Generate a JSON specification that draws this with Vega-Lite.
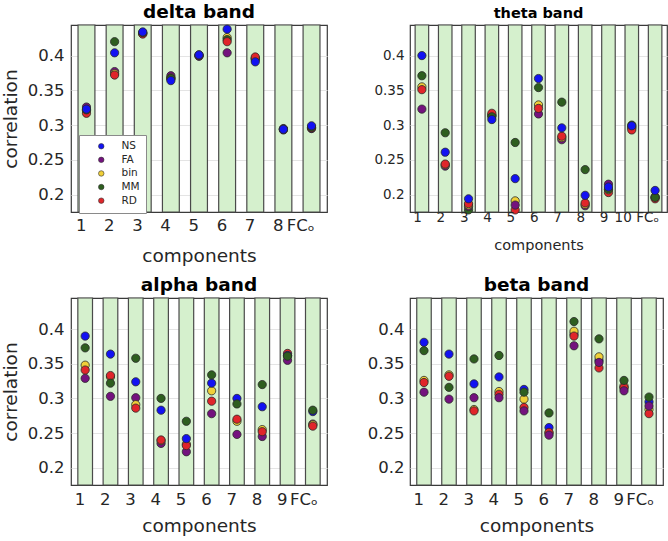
{
  "$schema": "https://vega.github.io/schema/vega-lite/v6.json",
  "padding": {"left": 0, "top": 2, "right": 0, "bottom": 0},
  "background": "white",
  "datasets": {
    "delta": [
      {"comp": "1", "method": "FA", "r": 0.326}, {"comp": "1", "method": "bin", "r": 0.321}, {"comp": "1", "method": "RD", "r": 0.317}, {"comp": "1", "method": "MM", "r": 0.322}, {"comp": "1", "method": "NS", "r": 0.323},
      {"comp": "2", "method": "FA", "r": 0.377}, {"comp": "2", "method": "bin", "r": 0.374}, {"comp": "2", "method": "RD", "r": 0.372}, {"comp": "2", "method": "MM", "r": 0.420}, {"comp": "2", "method": "NS", "r": 0.404},
      {"comp": "3", "method": "FA", "r": 0.432}, {"comp": "3", "method": "bin", "r": 0.432}, {"comp": "3", "method": "RD", "r": 0.431}, {"comp": "3", "method": "MM", "r": 0.433}, {"comp": "3", "method": "NS", "r": 0.434},
      {"comp": "4", "method": "FA", "r": 0.371}, {"comp": "4", "method": "bin", "r": 0.368}, {"comp": "4", "method": "RD", "r": 0.367}, {"comp": "4", "method": "MM", "r": 0.367}, {"comp": "4", "method": "NS", "r": 0.364},
      {"comp": "5", "method": "FA", "r": 0.399}, {"comp": "5", "method": "bin", "r": 0.400}, {"comp": "5", "method": "RD", "r": 0.400}, {"comp": "5", "method": "MM", "r": 0.401}, {"comp": "5", "method": "NS", "r": 0.401},
      {"comp": "6", "method": "FA", "r": 0.404}, {"comp": "6", "method": "bin", "r": 0.426}, {"comp": "6", "method": "MM", "r": 0.423}, {"comp": "6", "method": "RD", "r": 0.420}, {"comp": "6", "method": "NS", "r": 0.438},
      {"comp": "7", "method": "FA", "r": 0.396}, {"comp": "7", "method": "bin", "r": 0.396}, {"comp": "7", "method": "MM", "r": 0.394}, {"comp": "7", "method": "RD", "r": 0.398}, {"comp": "7", "method": "NS", "r": 0.391},
      {"comp": "8", "method": "FA", "r": 0.295}, {"comp": "8", "method": "bin", "r": 0.294}, {"comp": "8", "method": "RD", "r": 0.293}, {"comp": "8", "method": "MM", "r": 0.294}, {"comp": "8", "method": "NS", "r": 0.294},
      {"comp": "FCₒ", "method": "FA", "r": 0.295}, {"comp": "FCₒ", "method": "bin", "r": 0.296}, {"comp": "FCₒ", "method": "RD", "r": 0.296}, {"comp": "FCₒ", "method": "MM", "r": 0.297}, {"comp": "FCₒ", "method": "NS", "r": 0.299}
    ],
    "theta": [
      {"comp": "1", "method": "FA", "r": 0.323}, {"comp": "1", "method": "bin", "r": 0.355}, {"comp": "1", "method": "RD", "r": 0.351}, {"comp": "1", "method": "MM", "r": 0.371}, {"comp": "1", "method": "NS", "r": 0.400},
      {"comp": "2", "method": "FA", "r": 0.241}, {"comp": "2", "method": "bin", "r": 0.243}, {"comp": "2", "method": "RD", "r": 0.244}, {"comp": "2", "method": "MM", "r": 0.289}, {"comp": "2", "method": "NS", "r": 0.261},
      {"comp": "3", "method": "MM", "r": 0.178}, {"comp": "3", "method": "FA", "r": 0.183}, {"comp": "3", "method": "bin", "r": 0.185}, {"comp": "3", "method": "RD", "r": 0.187}, {"comp": "3", "method": "NS", "r": 0.194},
      {"comp": "4", "method": "FA", "r": 0.314}, {"comp": "4", "method": "bin", "r": 0.314}, {"comp": "4", "method": "RD", "r": 0.317}, {"comp": "4", "method": "MM", "r": 0.312}, {"comp": "4", "method": "NS", "r": 0.308},
      {"comp": "5", "method": "RD", "r": 0.178}, {"comp": "5", "method": "bin", "r": 0.191}, {"comp": "5", "method": "FA", "r": 0.185}, {"comp": "5", "method": "MM", "r": 0.275}, {"comp": "5", "method": "NS", "r": 0.223},
      {"comp": "6", "method": "FA", "r": 0.316}, {"comp": "6", "method": "bin", "r": 0.329}, {"comp": "6", "method": "RD", "r": 0.324}, {"comp": "6", "method": "MM", "r": 0.354}, {"comp": "6", "method": "NS", "r": 0.367},
      {"comp": "7", "method": "FA", "r": 0.279}, {"comp": "7", "method": "bin", "r": 0.282}, {"comp": "7", "method": "RD", "r": 0.284}, {"comp": "7", "method": "MM", "r": 0.333}, {"comp": "7", "method": "NS", "r": 0.296},
      {"comp": "8", "method": "FA", "r": 0.184}, {"comp": "8", "method": "bin", "r": 0.186}, {"comp": "8", "method": "RD", "r": 0.188}, {"comp": "8", "method": "MM", "r": 0.236}, {"comp": "8", "method": "NS", "r": 0.199},
      {"comp": "9", "method": "RD", "r": 0.203}, {"comp": "9", "method": "bin", "r": 0.207}, {"comp": "9", "method": "MM", "r": 0.208}, {"comp": "9", "method": "FA", "r": 0.215}, {"comp": "9", "method": "NS", "r": 0.211},
      {"comp": "10", "method": "FA", "r": 0.297}, {"comp": "10", "method": "bin", "r": 0.296}, {"comp": "10", "method": "RD", "r": 0.293}, {"comp": "10", "method": "MM", "r": 0.300}, {"comp": "10", "method": "NS", "r": 0.299},
      {"comp": "FCₒ", "method": "FA", "r": 0.197}, {"comp": "FCₒ", "method": "bin", "r": 0.196}, {"comp": "FCₒ", "method": "RD", "r": 0.194}, {"comp": "FCₒ", "method": "MM", "r": 0.196}, {"comp": "FCₒ", "method": "NS", "r": 0.206}
    ],
    "alpha": [
      {"comp": "1", "method": "FA", "r": 0.329}, {"comp": "1", "method": "bin", "r": 0.348}, {"comp": "1", "method": "RD", "r": 0.341}, {"comp": "1", "method": "NS", "r": 0.390}, {"comp": "1", "method": "MM", "r": 0.373},
      {"comp": "2", "method": "FA", "r": 0.303}, {"comp": "2", "method": "bin", "r": 0.331}, {"comp": "2", "method": "RD", "r": 0.333}, {"comp": "2", "method": "NS", "r": 0.364}, {"comp": "2", "method": "MM", "r": 0.322},
      {"comp": "3", "method": "FA", "r": 0.301}, {"comp": "3", "method": "bin", "r": 0.291}, {"comp": "3", "method": "RD", "r": 0.286}, {"comp": "3", "method": "NS", "r": 0.324}, {"comp": "3", "method": "MM", "r": 0.358},
      {"comp": "4", "method": "FA", "r": 0.235}, {"comp": "4", "method": "bin", "r": 0.239}, {"comp": "4", "method": "RD", "r": 0.240}, {"comp": "4", "method": "NS", "r": 0.283}, {"comp": "4", "method": "MM", "r": 0.300},
      {"comp": "5", "method": "FA", "r": 0.223}, {"comp": "5", "method": "bin", "r": 0.234}, {"comp": "5", "method": "RD", "r": 0.232}, {"comp": "5", "method": "NS", "r": 0.242}, {"comp": "5", "method": "MM", "r": 0.267},
      {"comp": "6", "method": "FA", "r": 0.278}, {"comp": "6", "method": "bin", "r": 0.311}, {"comp": "6", "method": "RD", "r": 0.296}, {"comp": "6", "method": "NS", "r": 0.322}, {"comp": "6", "method": "MM", "r": 0.334},
      {"comp": "7", "method": "FA", "r": 0.248}, {"comp": "7", "method": "bin", "r": 0.267}, {"comp": "7", "method": "RD", "r": 0.270}, {"comp": "7", "method": "NS", "r": 0.300}, {"comp": "7", "method": "MM", "r": 0.292},
      {"comp": "8", "method": "FA", "r": 0.245}, {"comp": "8", "method": "bin", "r": 0.255}, {"comp": "8", "method": "RD", "r": 0.252}, {"comp": "8", "method": "NS", "r": 0.288}, {"comp": "8", "method": "MM", "r": 0.320},
      {"comp": "9", "method": "FA", "r": 0.355}, {"comp": "9", "method": "bin", "r": 0.362}, {"comp": "9", "method": "RD", "r": 0.365}, {"comp": "9", "method": "NS", "r": 0.362}, {"comp": "9", "method": "MM", "r": 0.361},
      {"comp": "FCₒ", "method": "FA", "r": 0.263}, {"comp": "FCₒ", "method": "bin", "r": 0.262}, {"comp": "FCₒ", "method": "RD", "r": 0.260}, {"comp": "FCₒ", "method": "NS", "r": 0.281}, {"comp": "FCₒ", "method": "MM", "r": 0.283}
    ],
    "beta": [
      {"comp": "1", "method": "NS", "r": 0.381}, {"comp": "1", "method": "bin", "r": 0.326}, {"comp": "1", "method": "RD", "r": 0.323}, {"comp": "1", "method": "FA", "r": 0.309}, {"comp": "1", "method": "MM", "r": 0.369},
      {"comp": "2", "method": "NS", "r": 0.364}, {"comp": "2", "method": "bin", "r": 0.334}, {"comp": "2", "method": "RD", "r": 0.332}, {"comp": "2", "method": "FA", "r": 0.299}, {"comp": "2", "method": "MM", "r": 0.316},
      {"comp": "3", "method": "NS", "r": 0.321}, {"comp": "3", "method": "bin", "r": 0.284}, {"comp": "3", "method": "RD", "r": 0.282}, {"comp": "3", "method": "FA", "r": 0.301}, {"comp": "3", "method": "MM", "r": 0.357},
      {"comp": "4", "method": "NS", "r": 0.331}, {"comp": "4", "method": "bin", "r": 0.310}, {"comp": "4", "method": "RD", "r": 0.306}, {"comp": "4", "method": "FA", "r": 0.301}, {"comp": "4", "method": "MM", "r": 0.362},
      {"comp": "5", "method": "NS", "r": 0.313}, {"comp": "5", "method": "bin", "r": 0.299}, {"comp": "5", "method": "RD", "r": 0.287}, {"comp": "5", "method": "FA", "r": 0.282}, {"comp": "5", "method": "MM", "r": 0.309},
      {"comp": "6", "method": "NS", "r": 0.258}, {"comp": "6", "method": "bin", "r": 0.250}, {"comp": "6", "method": "RD", "r": 0.251}, {"comp": "6", "method": "FA", "r": 0.247}, {"comp": "6", "method": "MM", "r": 0.279},
      {"comp": "7", "method": "NS", "r": 0.393}, {"comp": "7", "method": "bin", "r": 0.397}, {"comp": "7", "method": "RD", "r": 0.390}, {"comp": "7", "method": "FA", "r": 0.376}, {"comp": "7", "method": "MM", "r": 0.411},
      {"comp": "8", "method": "NS", "r": 0.355}, {"comp": "8", "method": "bin", "r": 0.360}, {"comp": "8", "method": "RD", "r": 0.344}, {"comp": "8", "method": "FA", "r": 0.352}, {"comp": "8", "method": "MM", "r": 0.386},
      {"comp": "9", "method": "NS", "r": 0.315}, {"comp": "9", "method": "bin", "r": 0.318}, {"comp": "9", "method": "RD", "r": 0.316}, {"comp": "9", "method": "FA", "r": 0.311}, {"comp": "9", "method": "MM", "r": 0.326},
      {"comp": "FCₒ", "method": "NS", "r": 0.295}, {"comp": "FCₒ", "method": "bin", "r": 0.284}, {"comp": "FCₒ", "method": "RD", "r": 0.278}, {"comp": "FCₒ", "method": "FA", "r": 0.289}, {"comp": "FCₒ", "method": "MM", "r": 0.302}
    ]
  },
  "config": {
    "font": "DejaVu Sans",
    "view": {"stroke": "#3a3a3a", "strokeWidth": 1.2},
    "axis": {"labelColor": "#262626", "titleColor": "#262626", "titleFontWeight": "normal", "gridColor": "#e4e4e4", "domain": false, "ticks": false},
    "title": {"fontWeight": "bold", "color": "#000000", "anchor": "middle"}
  },
  "columns": 2,
  "spacing": {"row": 86, "column": 83},
  "bounds": "flush",
  "resolve": {"scale": {"x": "independent", "y": "independent", "color": "independent"}, "legend": {"color": "independent"}},
  "concat": [
    {
      "width": 256, "height": 187,
      "title": {"text": "delta band", "fontSize": 18.5, "offset": 2},
      "layer": [
        {
          "data": {"name": "delta"},
          "transform": [{"aggregate": [{"op": "count", "as": "n"}], "groupby": ["comp"]}],
          "mark": {"type": "rect", "fill": "#d5f0cd", "stroke": "#4a4a4a", "strokeWidth": 1.2},
          "encoding": {"x": {"field": "comp", "type": "nominal", "scale": {"domain": ["1","2","3","4","5","6","7","8","FCₒ"], "paddingInner": 0.4, "paddingOuter": 0.25}}}
        },
        {
          "data": {"name": "delta"},
          "mark": {"type": "circle", "size": 68, "opacity": 1, "stroke": "#2a2a2a", "strokeWidth": 0.8},
          "encoding": {
            "x": {"field": "comp", "type": "nominal", "axis": {"title": "components", "labelAngle": 0, "labelFontSize": 16.5, "titleFontSize": 18.5, "labelPadding": 13, "titlePadding": 13, "labelOffset": {"condition": {"test": "datum.value === 'FCₒ'", "value": 3}, "value": 0}}},
            "y": {"field": "r", "type": "quantitative", "scale": {"domain": [0.175, 0.444], "nice": false, "zero": false}, "axis": {"title": "correlation", "values": [0.2, 0.25, 0.3, 0.35, 0.4], "format": "~g", "labelFontSize": 16.5, "titleFontSize": 18.5, "labelPadding": 7, "titlePadding": 7}},
            "color": {"field": "method", "type": "nominal", "scale": {"domain": ["NS", "FA", "bin", "MM", "RD"], "range": ["#1212f2", "#74127e", "#f0cf38", "#2e5e1f", "#e0252a"]},
              "legend": {"title": null, "orient": "none", "legendX": 8, "legendY": 110, "direction": "vertical", "fillColor": "white", "strokeColor": "#8a8a8a", "padding": 6, "symbolType": "circle", "symbolSize": 30, "symbolStrokeColor": "#333", "symbolStrokeWidth": 0.6, "symbolOffset": 11, "labelOffset": 15, "labelFontSize": 10.5, "labelColor": "#262626", "rowPadding": 2.6}}
          }
        }
      ]
    },
    {
      "width": 257, "height": 187,
      "title": {"text": "theta band", "fontSize": 14.5, "offset": 3},
      "layer": [
        {
          "data": {"name": "theta"},
          "transform": [{"aggregate": [{"op": "count", "as": "n"}], "groupby": ["comp"]}],
          "mark": {"type": "rect", "fill": "#d5f0cd", "stroke": "#4a4a4a", "strokeWidth": 1.2},
          "encoding": {"x": {"field": "comp", "type": "nominal", "scale": {"domain": ["1","2","3","4","5","6","7","8","9","10","FCₒ"], "paddingInner": 0.42, "paddingOuter": 0.22}}}
        },
        {
          "data": {"name": "theta"},
          "mark": {"type": "circle", "size": 68, "opacity": 1, "stroke": "#2a2a2a", "strokeWidth": 0.8},
          "encoding": {
            "x": {"field": "comp", "type": "nominal", "axis": {"title": "components", "labelAngle": 0, "labelFontSize": 13.5, "titleFontSize": 14.5, "labelPadding": 5, "titlePadding": 15, "labelOffset": {"condition": {"test": "datum.value === 'FCₒ'", "value": 4}, "value": 0}}},
            "y": {"field": "r", "type": "quantitative", "scale": {"domain": [0.175, 0.444], "nice": false, "zero": false}, "axis": {"title": null, "values": [0.2, 0.25, 0.3, 0.35, 0.4], "format": "~g", "labelFontSize": 13.5, "labelPadding": 6}},
            "color": {"field": "method", "type": "nominal", "scale": {"domain": ["NS", "FA", "bin", "MM", "RD"], "range": ["#1212f2", "#74127e", "#f0cf38", "#2e5e1f", "#e0252a"]}, "legend": null}
          }
        }
      ]
    },
    {
      "width": 256, "height": 187,
      "title": {"text": "alpha band", "fontSize": 18.5, "offset": 3},
      "layer": [
        {
          "data": {"name": "alpha"},
          "transform": [{"aggregate": [{"op": "count", "as": "n"}], "groupby": ["comp"]}],
          "mark": {"type": "rect", "fill": "#d5f0cd", "stroke": "#4a4a4a", "strokeWidth": 1.2},
          "encoding": {"x": {"field": "comp", "type": "nominal", "scale": {"domain": ["1","2","3","4","5","6","7","8","9","FCₒ"], "paddingInner": 0.42, "paddingOuter": 0.27}}}
        },
        {
          "data": {"name": "alpha"},
          "mark": {"type": "circle", "size": 68, "opacity": 1, "stroke": "#2a2a2a", "strokeWidth": 0.8},
          "encoding": {
            "x": {"field": "comp", "type": "nominal", "axis": {"title": "components", "labelAngle": 0, "labelFontSize": 16.5, "titleFontSize": 18.5, "labelPadding": 14, "titlePadding": 9, "labelOffset": {"condition": {"test": "datum.value === 'FCₒ'", "value": 5}, "value": 0}}},
            "y": {"field": "r", "type": "quantitative", "scale": {"domain": [0.175, 0.445], "nice": false, "zero": false}, "axis": {"title": "correlation", "values": [0.2, 0.25, 0.3, 0.35, 0.4], "format": "~g", "labelFontSize": 16.5, "titleFontSize": 18.5, "labelPadding": 7, "titlePadding": 7}},
            "color": {"field": "method", "type": "nominal", "scale": {"domain": ["NS", "FA", "bin", "MM", "RD"], "range": ["#1212f2", "#74127e", "#f0cf38", "#2e5e1f", "#e0252a"]}, "legend": null}
          }
        }
      ]
    },
    {
      "width": 253, "height": 187,
      "title": {"text": "beta band", "fontSize": 18.5, "offset": 3},
      "layer": [
        {
          "data": {"name": "beta"},
          "transform": [{"aggregate": [{"op": "count", "as": "n"}], "groupby": ["comp"]}],
          "mark": {"type": "rect", "fill": "#d5f0cd", "stroke": "#4a4a4a", "strokeWidth": 1.2},
          "encoding": {"x": {"field": "comp", "type": "nominal", "scale": {"domain": ["1","2","3","4","5","6","7","8","9","FCₒ"], "paddingInner": 0.42, "paddingOuter": 0.27}}}
        },
        {
          "data": {"name": "beta"},
          "mark": {"type": "circle", "size": 68, "opacity": 1, "stroke": "#2a2a2a", "strokeWidth": 0.8},
          "encoding": {
            "x": {"field": "comp", "type": "nominal", "axis": {"title": "components", "labelAngle": 0, "labelFontSize": 16.5, "titleFontSize": 18.5, "labelPadding": 14, "titlePadding": 9, "labelOffset": {"condition": {"test": "datum.value === 'FCₒ'", "value": 5}, "value": 0}}},
            "y": {"field": "r", "type": "quantitative", "scale": {"domain": [0.175, 0.445], "nice": false, "zero": false}, "axis": {"title": null, "values": [0.2, 0.25, 0.3, 0.35, 0.4], "format": "~g", "labelFontSize": 16.5, "labelPadding": 6}},
            "color": {"field": "method", "type": "nominal", "scale": {"domain": ["NS", "FA", "bin", "MM", "RD"], "range": ["#1212f2", "#74127e", "#f0cf38", "#2e5e1f", "#e0252a"]}, "legend": null}
          }
        }
      ]
    }
  ]
}
